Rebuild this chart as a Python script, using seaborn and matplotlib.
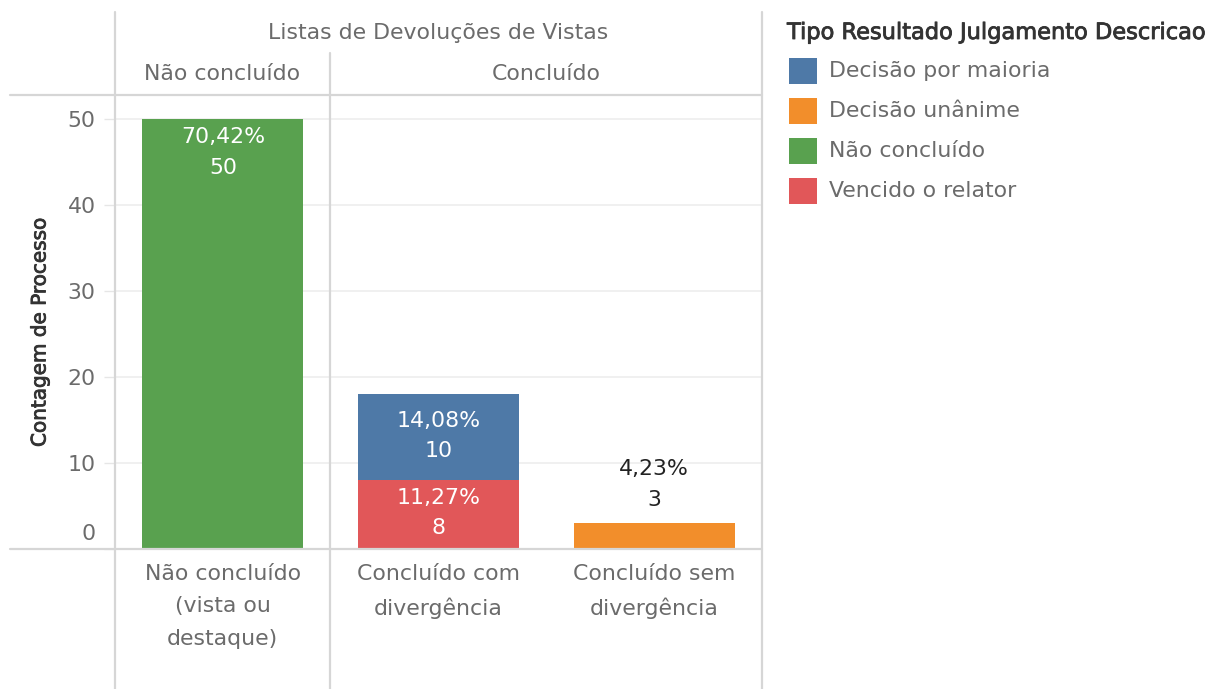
import matplotlib
matplotlib.use("Agg")
import matplotlib.pyplot as plt
import matplotlib.patheffects as pe
from matplotlib.lines import Line2D
from matplotlib.patches import Rectangle
from matplotlib.transforms import ScaledTranslation
import seaborn as sns

# ---- data -------------------------------------------------------------
categories = ["Não concluído\n(vista ou\ndestaque)",
              "Concluído com\ndivergência",
              "Concluído sem\ndivergência"]
panel_labels = ["Não concluído", "Concluído"]
header_title = "Listas de Devoluções de Vistas"

tipos = ["Decisão por maioria", "Decisão unânime", "Não concluído", "Vencido o relator"]
tipo_colors = ["#4e79a7", "#f28e2b", "#59a14f", "#e15759"]

# counts per category for every result type
decisao_maioria = [0, 10, 0]
decisao_unanime = [0, 0, 3]
nao_concluido = [50, 0, 0]
vencido_relator = [0, 8, 0]

y_ticks = [0, 10, 20, 30, 40, 50]

# ---- style ------------------------------------------------------------
sns.set_theme(style="white")
plt.rcParams["font.family"] = ["DejaVu Sans"]
FS = 15.8
GRAY = "#6b6b6b"
DARK = "#333333"
LINE = "#d6d6d6"
HEAVY = [pe.withStroke(linewidth=0.6, foreground=DARK)]

W, H = 1210, 689
fig = plt.figure(figsize=(W / 100, H / 100), dpi=100)


def fx(px):
    return px / W


def fy(py):
    return 1 - py / H


ax = fig.add_axes([fx(115), fy(549), fx(762) - fx(115), fy(95) - fy(549)])

# stacking order, bottom to top
layers = [
    ("Vencido o relator", vencido_relator),
    ("Não concluído", nao_concluido),
    ("Decisão unânime", decisao_unanime),
    ("Decisão por maioria", decisao_maioria),
]
color_of = dict(zip(tipos, tipo_colors))
total = sum(decisao_maioria) + sum(decisao_unanime) + sum(nao_concluido) + sum(vencido_relator)

bottoms = [0, 0, 0]
segments = []
for tipo, vals in layers:
    xs = [c for c, v in zip(categories, vals) if v > 0]
    ys = [v for v in vals if v > 0]
    bs = [b for b, v in zip(bottoms, vals) if v > 0]
    sns.barplot(x=xs, y=ys, bottom=bs, order=categories, color=color_of[tipo],
                width=0.745, errorbar=None, saturation=1, linewidth=0, ax=ax)
    for i, v in enumerate(vals):
        if v > 0:
            segments.append((i, bottoms[i], v, tipo))
            bottoms[i] += v

ax.set_xlim(-0.5, 2.5)
ax.set_ylim(0, 454 / 8.6)
for s in ax.spines.values():
    s.set_visible(False)

# gridlines
for t in y_ticks[1:]:
    ax.axhline(t, color="#efefef", lw=1.3, zorder=0)

ax.set_yticks(y_ticks)
ax.set_yticklabels([str(t) for t in y_ticks])
ax.tick_params(axis="y", length=8, width=1, color="#e6e6e6", pad=6,
               labelsize=FS, labelcolor=GRAY, left=True)
zero_lbl = ax.get_yticklabels()[0]
zero_lbl.set_transform(zero_lbl.get_transform() + ScaledTranslation(0, 17 / 100, fig.dpi_scale_trans))

ax.set_xticks(range(len(categories)))
ax.set_xticklabels(categories, linespacing=1.76)
ax.tick_params(axis="x", length=0, pad=11, labelsize=FS, labelcolor=GRAY)
ax.set_xlabel("")
ax.set_ylabel("")


def fmt_pct(v):
    return f"{v / total * 100:.2f}".replace(".", ",") + "%"


# value labels
LS = 1.66
for i, b, v, tipo in segments:
    txt = f"{fmt_pct(v)}\n{v}"
    if tipo == "Não concluído":
        ax.annotate(txt, (i, b + v), xytext=(0, -33.5 * 0.72), textcoords="offset points",
                    ha="center", va="center", color="white", fontsize=FS, linespacing=LS)
    elif tipo == "Decisão unânime":
        ax.annotate(txt, (i, b + v), xytext=(0, 38.5 * 0.72), textcoords="offset points",
                    ha="center", va="center", color="#222222", fontsize=FS, linespacing=LS)
    else:
        ax.annotate(txt, (i, b + v / 2), xytext=(0, 1), textcoords="offset points",
                    ha="center", va="center", color="white", fontsize=FS, linespacing=LS)

# frame lines
lines = [
    ((115, 12), (115, 689)),
    ((762, 12), (762, 689)),
    ((330, 53), (330, 689)),
    ((10, 95), (762, 95)),
    ((10, 549), (762, 549)),
]
for (x0, y0), (x1, y1) in lines:
    fig.add_artist(Line2D([fx(x0), fx(x1)], [fy(y0), fy(y1)], transform=fig.transFigure,
                          color=LINE, lw=1.6))

# headers
fig.text(fx(438), fy(33), header_title, ha="center", va="center", fontsize=FS, color=GRAY)
fig.text(fx(222), fy(74), panel_labels[0], ha="center", va="center", fontsize=FS, color=GRAY)
fig.text(fx(546), fy(74), panel_labels[1], ha="center", va="center", fontsize=FS, color=GRAY)

# axis title
fig.text(fx(40), fy(332), "Contagem de Processo", rotation=90, ha="center", va="center",
         fontsize=14.4, color=DARK, path_effects=HEAVY)

# legend
fig.text(fx(787), fy(33), "Tipo Resultado Julgamento Descricao", ha="left", va="center",
         fontsize=16.2, color=DARK, path_effects=HEAVY)
for k, (tipo, c) in enumerate(zip(tipos, tipo_colors)):
    yc = 71 + 40 * k
    fig.add_artist(Rectangle((fx(789), fy(yc + 13)), fx(817) - fx(789), fy(yc - 13) - fy(yc + 13),
                             transform=fig.transFigure, color=c, lw=0))
    fig.text(fx(829), fy(yc), tipo, ha="left", va="center", fontsize=FS, color=GRAY)

fig.savefig("out.png", dpi=100, facecolor="white")
